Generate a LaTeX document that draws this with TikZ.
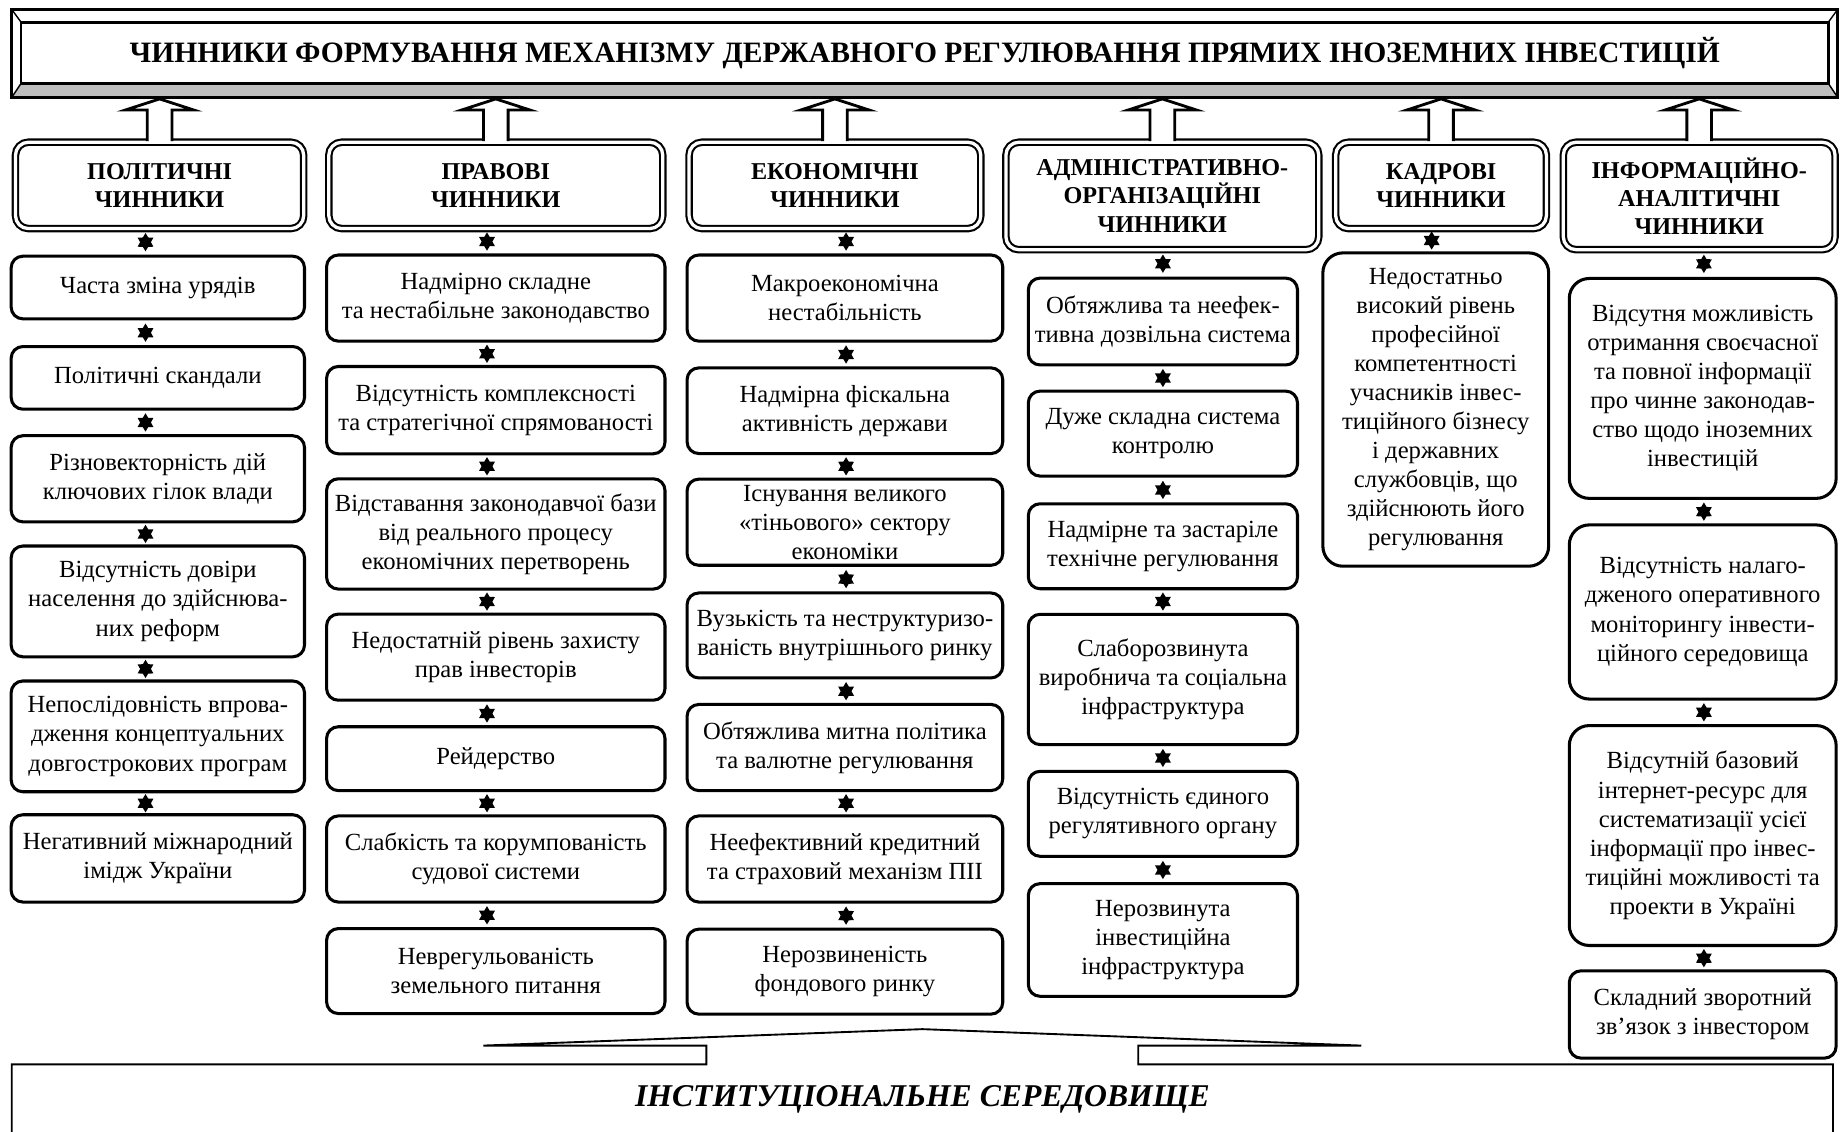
\documentclass[tikz,border=0pt]{standalone}
\usepackage{fontspec}
\setmainfont{Liberation Serif}
\usetikzlibrary{shapes.geometric,calc}
\newcommand\itemfont{\fontsize{10.5}{12.4}\selectfont}
\newcommand\headfont{\fontsize{10.3}{12}\selectfont\bfseries}

\begin{document}
\begin{tikzpicture}[x=0.5pt,y=-0.5pt,
    item/.style={draw,line width=1.3pt,rounded corners=5pt,align=center,inner sep=0pt,font=\itemfont},
    head/.style={draw,double,line width=0.9pt,double distance=1.4pt,rounded corners=5.5pt,align=center,inner sep=0pt,font=\headfont},
    hexstar/.style={star,star points=6,star point ratio=1.7,fill,inner sep=0pt,minimum size=7.8pt},
    uparrow/.style={draw,fill=white,line width=1.2pt,to path={let \p1=(\tikztostart),\p2=(\tikztotarget) in
      (\x1-5.25pt,\y1) -- (\x1-5.25pt,\y2-4.7pt) -- (\x1-14.5pt,\y2-4.7pt) -- (\x1,\y2)
      -- (\x1+14.5pt,\y2-4.7pt) -- (\x1+5.25pt,\y2-4.7pt) -- (\x1+5.25pt,\y1)}}]
  \clip (0,0) rectangle (1568,964);
  \fill[white] (0,0) rectangle (1568,964);

  % title bar
  \fill[black!25] (10,83) -- (18,71) -- (1558,71) -- (1566,83) -- cycle;
  \node[draw,line width=1.3pt,minimum width=778pt,minimum height=37.5pt,inner sep=0pt,
    font=\fontsize{12.6}{15}\selectfont\bfseries] (title) at (788,45.5)
    {ЧИННИКИ ФОРМУВАННЯ МЕХАНІЗМУ ДЕРЖАВНОГО РЕГУЛЮВАННЯ ПРЯМИХ ІНОЗЕМНИХ ІНВЕСТИЦІЙ};
  \draw[line width=1.1pt] (18,19) rectangle (1558,71);
  \draw[line width=0.6pt] (10,8) -- (18,19) (10,83) -- (18,71) (1566,8) -- (1558,19) (1566,83) -- (1558,71);

  % groups of factors
  \node[head,minimum width=122.8pt,minimum height=36.8pt] (h1) at (136,158) {ПОЛІТИЧНІ\\ЧИННИКИ};
  \node[head,minimum width=142.3pt,minimum height=36.8pt] (h2) at (422.5,158) {ПРАВОВІ\\ЧИННИКИ};
  \node[head,minimum width=124.3pt,minimum height=36.8pt] (h3) at (711.5,158) {ЕКОНОМІЧНІ\\ЧИННИКИ};
  \node[head,minimum width=133.3pt,minimum height=45.8pt] (h4) at (990.5,167) {АДМІНІСТРАТИВНО-\\ОРГАНІЗАЦІЙНІ\\ЧИННИКИ};
  \node[head,minimum width=89.8pt,minimum height=36.8pt] (h5) at (1228,158) {КАДРОВІ\\ЧИННИКИ};
  \node[head,minimum width=115.8pt,minimum height=45.8pt] (h6) at (1448,167) {ІНФОРМАЦІЙНО-\\АНАЛІТИЧНІ\\ЧИННИКИ};

  \foreach \h in {h1,h2,h3,h4,h5,h6}
    \draw[uparrow] (\h.north) to (\h.north |- title.south);

  % political
  \node[item,minimum width=125pt,minimum height=26.7pt] (p1) at (134.5,245) {Часта зміна урядів};
  \node[item,minimum width=125pt,minimum height=26.7pt] (p2) at (134.5,322) {Політичні скандали};
  \node[item,minimum width=125pt,minimum height=36.7pt] (p3) at (134.5,408) {Різновекторність дій\\ключових гілок влади};
  \node[item,minimum width=125pt,minimum height=47.2pt] (p4) at (134.5,512.5) {Відсутність довіри\\населення до здійснюва-\\них реформ};
  \node[item,minimum width=125pt,minimum height=47.2pt] (p5) at (134.5,627.5) {Непослідовність впрова-\\дження концептуальних\\довгострокових програм};
  \node[item,minimum width=125pt,minimum height=37.2pt] (p6) at (134.5,731.5) {Негативний міжнародний\\імідж України};

  % legal
  \node[item,minimum width=144.2pt,minimum height=36.7pt] (r1) at (422.5,254) {Надмірно складне\\та нестабільне законодавство};
  \node[item,minimum width=144.2pt,minimum height=37.2pt] (r2) at (422.5,349.5) {Відсутність комплексності\\та стратегічної спрямованості};
  \node[item,minimum width=144.2pt,minimum height=47pt] (r3) at (422.5,455) {Відставання законодавчої бази\\від реального процесу\\економічних перетворень};
  \node[item,minimum width=144.2pt,minimum height=36.7pt] (r4) at (422.5,560) {Недостатній рівень захисту\\прав інвесторів};
  \node[item,minimum width=144.2pt,minimum height=27.2pt] (r5) at (422.5,646.5) {Рейдерство};
  \node[item,minimum width=144.2pt,minimum height=36.7pt] (r6) at (422.5,732) {Слабкість та корумпованість\\судової системи};
  \node[item,minimum width=144.2pt,minimum height=36.2pt] (r7) at (422.5,827.5) {Неврегульованість\\земельного питання};

  % economic
  \node[item,minimum width=134.5pt,minimum height=36.7pt] (e1) at (720,254) {Макроекономічна\\нестабільність};
  \node[item,minimum width=134.5pt,minimum height=36.5pt] (e2) at (720,350) {Надмірна фіскальна\\активність держави};
  \node[item,minimum width=134.5pt,minimum height=36.7pt] (e3) at (720,445) {Існування великого\\«тіньового» сектору\\економіки};
  \node[item,minimum width=134.5pt,minimum height=36.2pt] (e4) at (720,541.5) {Вузькість та неструктуризо-\\ваність внутрішнього ринку};
  \node[item,minimum width=134.5pt,minimum height=36.7pt] (e5) at (720,637) {Обтяжлива митна політика\\та валютне регулювання};
  \node[item,minimum width=134.5pt,minimum height=36.7pt] (e6) at (720,732) {Неефективний кредитний\\та страховий механізм ПІІ};
  \node[item,minimum width=134.5pt,minimum height=36.2pt] (e7) at (720,828) {Нерозвиненість\\фондового ринку};

  % administrative
  \node[item,minimum width=114.7pt,minimum height=37pt] (a1) at (991,274) {Обтяжлива та неефек-\\тивна дозвільна система};
  \node[item,minimum width=114.7pt,minimum height=36.2pt] (a2) at (991,369.5) {Дуже складна система\\контролю};
  \node[item,minimum width=114.7pt,minimum height=36.2pt] (a3) at (991,465.5) {Надмірне та застаріле\\технічне регулювання};
  \node[item,minimum width=114.7pt,minimum height=55.5pt] (a4) at (991,579) {Слаборозвинута\\виробнича та соціальна\\інфраструктура};
  \node[item,minimum width=114.7pt,minimum height=36.2pt] (a5) at (991,693.5) {Відсутність єдиного\\регулятивного органу};
  \node[item,minimum width=114.7pt,minimum height=48pt] (a6) at (991,801) {Нерозвинута\\інвестиційна\\інфраструктура};

  % personnel
  \node[item,rounded corners=8.5pt,minimum width=96.2pt,minimum height=133.5pt] (k1) at (1223.5,349)
    {Недостатньо\\високий рівень\\професійної\\компетентності\\учасників інвес-\\тиційного бізнесу\\і державних\\службовців, що\\здійснюють його\\регулювання};

  % information
  \node[item,rounded corners=8.5pt,minimum width=113.7pt,minimum height=93.7pt] (i1) at (1451,331)
    {Відсутня можливість\\отримання своєчасної\\та повної інформації\\про чинне законодав-\\ство щодо іноземних\\інвестицій};
  \node[item,rounded corners=8.5pt,minimum width=113.7pt,minimum height=74.2pt] (i2) at (1451,521.5)
    {Відсутність налаго-\\дженого оперативного\\моніторингу інвести-\\ційного середовища};
  \node[item,rounded corners=8.5pt,minimum width=113.7pt,minimum height=93.7pt] (i3) at (1451,712)
    {Відсутній базовий\\інтернет-ресурс для\\систематизації усієї\\інформації про інвес-\\тиційні можливості та\\проекти в Україні};
  \node[item,minimum width=113.7pt,minimum height=37.2pt] (i4) at (1451,864.5) {Складний зворотний\\зв’язок з інвестором};

  % star links
  \coordinate (s1) at (124,0);
  \coordinate (s2) at (415,0);
  \coordinate (s3) at (721,0);
  \coordinate (s4) at (991,0);
  \coordinate (s5) at (1220,0);
  \coordinate (s6) at (1452,0);
  \foreach \a/\b/\s in {h1/p1/s1,p1/p2/s1,p2/p3/s1,p3/p4/s1,p4/p5/s1,p5/p6/s1,
      h2/r1/s2,r1/r2/s2,r2/r3/s2,r3/r4/s2,r4/r5/s2,r5/r6/s2,r6/r7/s2,
      h3/e1/s3,e1/e2/s3,e2/e3/s3,e3/e4/s3,e4/e5/s3,e5/e6/s3,e6/e7/s3,
      h4/a1/s4,a1/a2/s4,a2/a3/s4,a3/a4/s4,a4/a5/s4,a5/a6/s4,
      h5/k1/s5,
      h6/i1/s6,i1/i2/s6,i2/i3/s6,i3/i4/s6}
    \path (\a.south -| \s) -- (\b.north -| \s) node[midway,hexstar] {};

  % institutional environment
  \draw[line width=0.8pt] (10,990) -- (10,907) -- (602,907) -- (602,891) -- (412,891) -- (786,877)
    -- (1160,891) -- (970,891) -- (970,907) -- (1562,907) -- (1562,990);
  \node[font=\fontsize{13.5}{15}\selectfont\bfseries\itshape] (env) at (786,937) {ІНСТИТУЦІОНАЛЬНЕ СЕРЕДОВИЩЕ};
\end{tikzpicture}
\end{document}
